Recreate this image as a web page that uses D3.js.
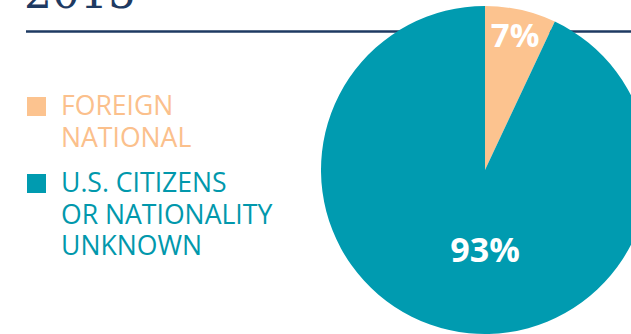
<!DOCTYPE html>
<html>
<head>
<meta charset="utf-8">
<script src="https://cdn.jsdelivr.net/npm/d3@7"></script>
<style>
  html, body { margin: 0; padding: 0; background: #fff; }
  svg { display: block; }
</style>
</head>
<body>
<svg id="chart" width="631" height="334"></svg>
<script>
// Share of cases by nationality
const categories = ["FOREIGN NATIONAL", "U.S. CITIZENS OR NATIONALITY UNKNOWN"];
const legendLines = [["FOREIGN", "NATIONAL"], ["U.S. CITIZENS", "OR NATIONALITY", "UNKNOWN"]];
const shares = [7, 93];
const colors = ["#fcc38f", "#009bb0"];
const textColors = ["#fbc08c", "#0198ac"];
const titleText = "2015";

const svg = d3.select("#chart");
const W = 631, H = 334;

// Title (sits mostly above the visible area)
svg.append("text")
  .attr("x", 24).attr("y", 8)
  .attr("font-family", "DejaVu Serif, serif")
  .attr("font-size", 44)
  .attr("fill", "#1e3a62")
  .text(titleText);

// Rule under the title
svg.append("line")
  .attr("x1", 26).attr("x2", W)
  .attr("y1", 31.5).attr("y2", 31.5)
  .attr("stroke", "#1e3a62")
  .attr("stroke-width", 2.5);

// Pie
const cx = 485, cy = 170, R = 164;
const pie = d3.pie().sort(null).value(d => d.v);
const arcs = pie(shares.map((v, i) => ({ v, i })));
const arc = d3.arc().innerRadius(0).outerRadius(R);
const g = svg.append("g").attr("transform", `translate(${cx},${cy})`);
g.selectAll("path").data(arcs).join("path")
  .attr("d", arc)
  .attr("fill", d => colors[d.data.i]);

// Value labels
const labelArc = d3.arc().innerRadius(138).outerRadius(138);
g.append("text")
  .attr("x", labelArc.centroid(arcs[0])[0])
  .attr("y", labelArc.centroid(arcs[0])[1] + 12)
  .attr("text-anchor", "middle")
  .attr("font-family", "Open Sans, sans-serif")
  .attr("font-weight", 700)
  .attr("font-size", 33)
  .attr("fill", "#fff")
  .text(shares[0] + "%");
g.append("text")
  .attr("x", 0)
  .attr("y", 92)
  .attr("text-anchor", "middle")
  .attr("font-family", "Open Sans, sans-serif")
  .attr("font-weight", 700)
  .attr("font-size", 34)
  .attr("fill", "#fff")
  .text(shares[1] + "%");

// Legend
const legendTop = [115, 192];
const leg = svg.append("g");
legendLines.forEach((lines, i) => {
  leg.append("rect")
    .attr("x", 27).attr("y", legendTop[i] - 18)
    .attr("width", 19).attr("height", 19)
    .attr("fill", colors[i]);
  lines.forEach((ln, j) => {
    leg.append("text")
      .attr("x", 61).attr("y", legendTop[i] + j * 31.5)
      .attr("font-family", "Open Sans, sans-serif")
      .attr("font-size", 26.6)
      .attr("fill", textColors[i])
      .text(ln);
  });
});
</script>
</body>
</html>
